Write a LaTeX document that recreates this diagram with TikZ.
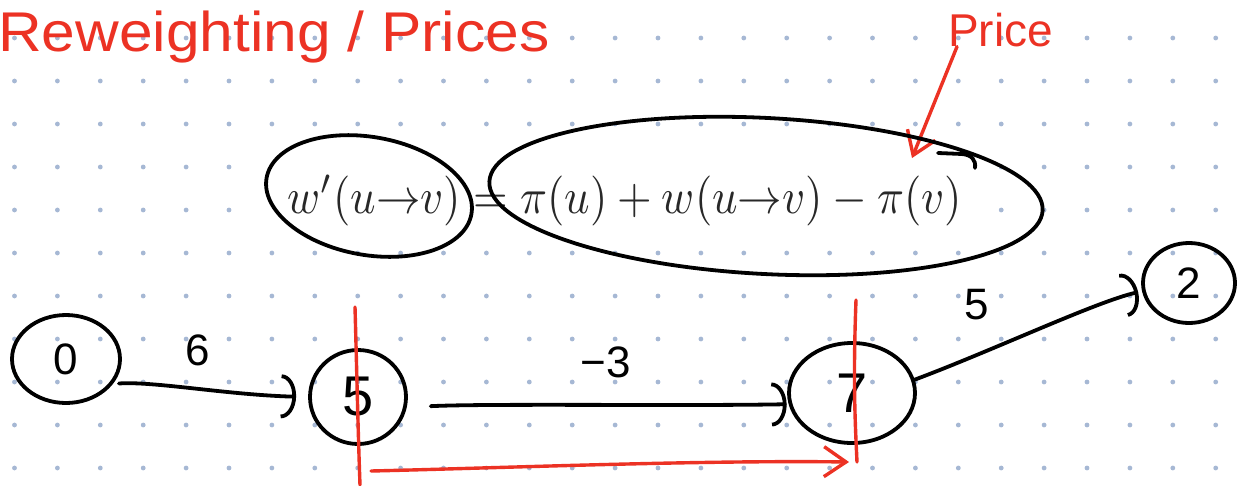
\documentclass[tikz,border=0pt]{standalone}
\usepackage[no-math]{fontspec}
\setmainfont{Liberation Sans}
\usetikzlibrary{arrows.meta,shapes.geometric}
\definecolor{penred}{RGB}{236,50,36}
\definecolor{dotblue}{RGB}{166,184,212}
\definecolor{inkgrey}{RGB}{40,40,40}
\newcommand{\dotgrid}[2]{\foreach \i in {0,...,#1} \foreach \j in {0,...,#2} \fill[dotblue] (14.5+42.9*\i,38+43*\j) circle (2.4);}
\newcommand{\fsize}[1]{\fontsize{#1}{#1}\selectfont}

\begin{document}
\begin{tikzpicture}[x=1pt, y=-1pt, line cap=round, line join=round,
  pen/.style={black, line width=3.8pt},
  redpen/.style={penred, line width=3.4pt},
  vertex/.style={ellipse, draw=black, line width=3.8pt, inner sep=0pt, font=\fsize{44}},
  wlabel/.style={font=\fsize{44}},
  tip/.style={-{Arc Barb[width=44pt,length=15pt,line width=3.8pt]}},
  redtip/.style={-{Straight Barb[width=30pt,length=22pt,line width=3.4pt]}}]
\fill[white] (0,0) rectangle (1239,485);
\useasboundingbox (0,0) rectangle (1239,485);
\dotgrid{28}{10}
\fill[white] (262,147) rectangle (992,240);

\node[penred, anchor=base west, inner sep=0pt, font=\fsize{56}, xscale=1.08, transform shape] (title) at (-2,51) {Reweighting / Prices};
\node[penred, anchor=base west, inner sep=0pt, font=\fsize{46}] (price) at (948,46) {Price};
\coordinate (pv) at (912,158);
\draw[redpen, redtip] ([xshift=9pt]price.south west) -- (pv);

\node[inkgrey, anchor=base west, inner sep=0pt, xscale=4.45, yscale=5, transform shape] (formula) at (287,213) {$w'(u{\to}v) = \pi(u)+w(u{\to}v)-\pi(v)$};
\draw[pen, rotate around={-10:(369,196)}] (369,196) ellipse (104 and 59);
\draw[pen, rotate around={-3:(766,196)}] (766,196) ellipse (277 and 78);
\draw[pen] (938,153) -- (962,154) .. controls (972,155) and (976,160) .. (975,168);

\node[vertex, minimum width=108, minimum height=88] (n0) at (66,359) {0};
\node[vertex, minimum width=96, minimum height=94, font=\fsize{56}] (n5) at (358,397) {5};
\node[vertex, minimum width=126, minimum height=100, font=\fsize{56}] (n7) at (852,393) {7};
\node[vertex, minimum width=92, minimum height=80] (n2) at (1189,283) {2};

\node[wlabel] (w05) at (198,350) {6};
\node[wlabel] (w57) at (606,362) {−3};
\node[wlabel] (w72) at (977,305) {5};

\draw[pen, tip, shorten >=12pt, shorten <=6pt] (n0.-28) .. controls +(40,-3) and +(-80,-2) .. (n5.west);
\draw[pen, tip, shorten <=24pt, shorten >=2pt] (n5.-12) .. controls +(80,-4) and +(-100,2) .. (n7.190);
\draw[pen, tip, shorten >=4pt] (n7.12) .. controls +(80,-30) and +(-45,10) .. (n2.190);

\coordinate (cut5a) at (355,307);
\coordinate (cut5b) at (360,485);
\draw[redpen] (cut5a) .. controls (357,380) and (358,430) .. (cut5b);
\coordinate (cut7a) at (856,300);
\coordinate (cut7b) at (857,462);
\draw[redpen] (cut7a) .. controls (853,380) and (855,420) .. (cut7b);
\coordinate (shiftA) at (371,471);
\coordinate (shiftB) at (849,462);
\draw[redpen, redtip] (shiftA) .. controls (500,468) and (700,460) .. (shiftB);
\end{tikzpicture}
\end{document}
